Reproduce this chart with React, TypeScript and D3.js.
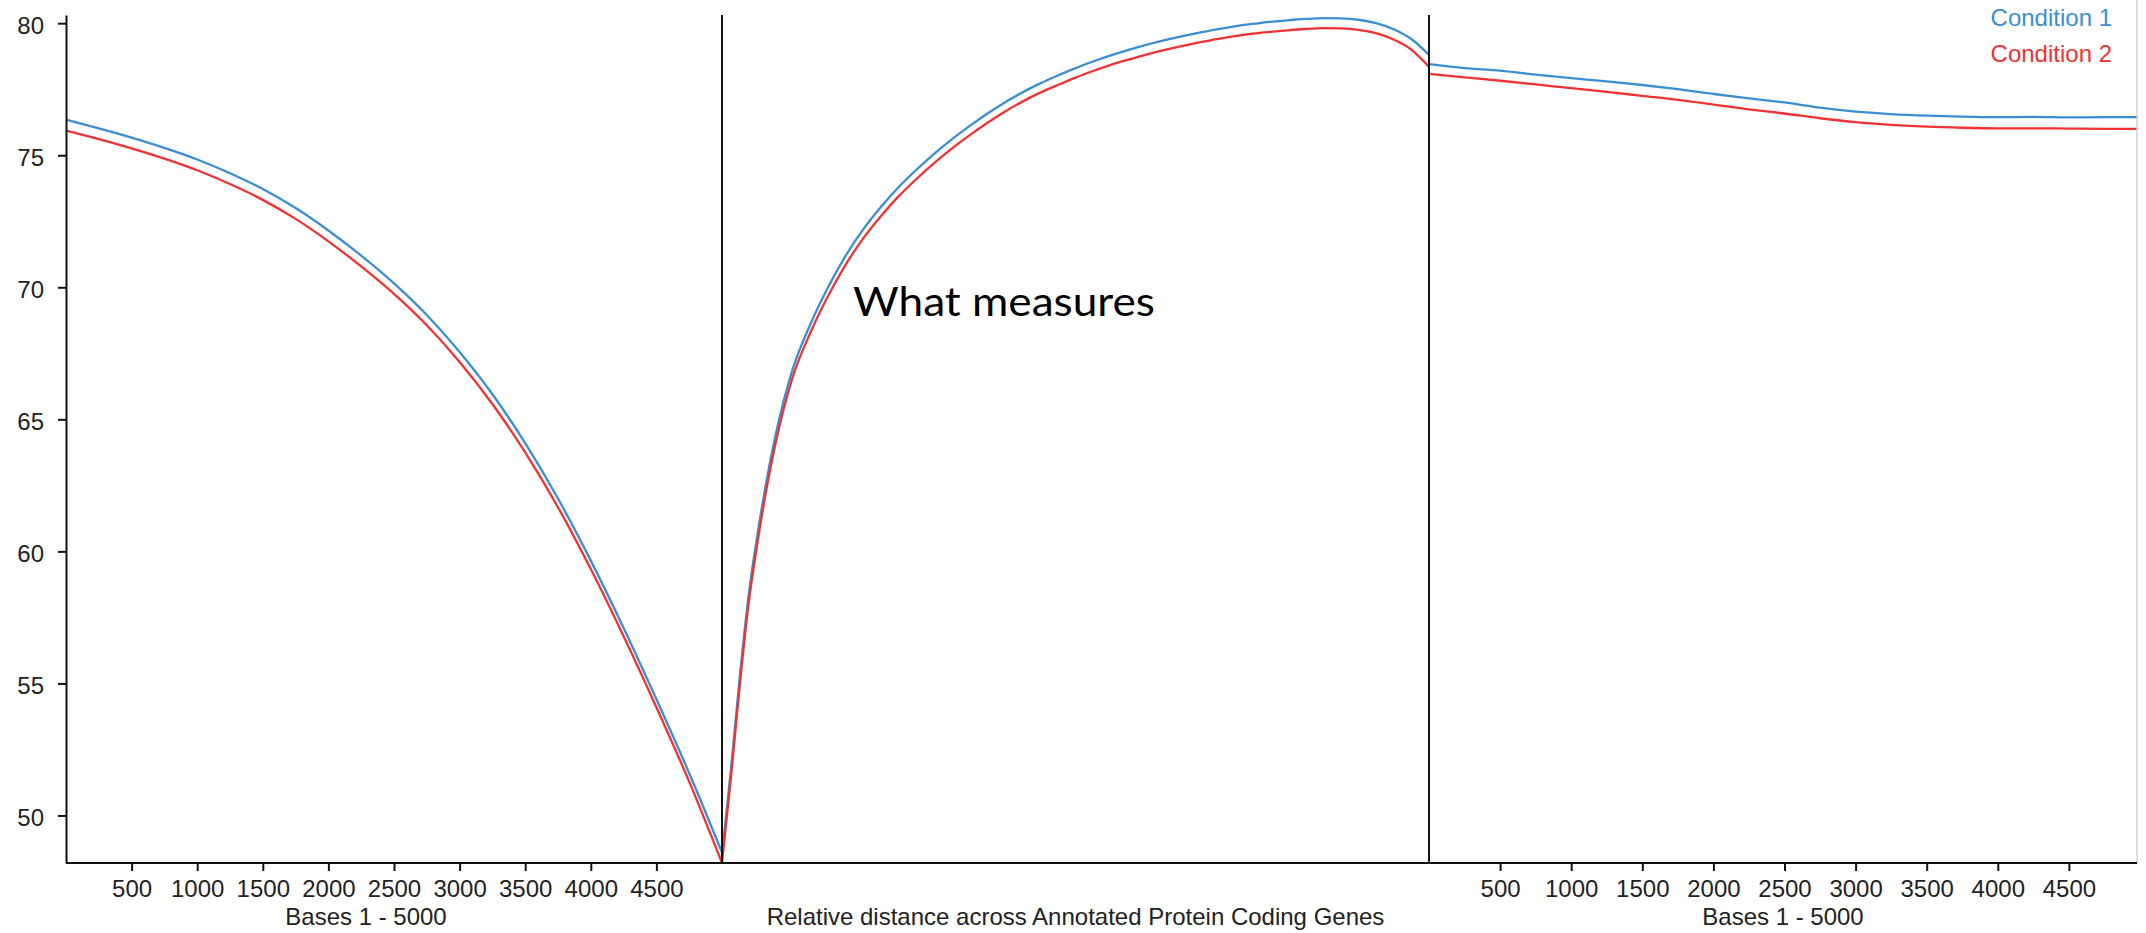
import React, { useEffect, useRef } from 'react';
import * as d3 from 'd3';

// upstream flank, bases 1 - 5000
const leftBases = [0, 250, 500, 750, 1000, 1250, 1500, 1750, 2000, 2250, 2500, 2750, 3000, 3250, 3500, 3750, 4000, 4250, 4500, 4750, 5000];
const leftCond1 = [76.35, 76.02, 75.67, 75.28, 74.84, 74.32, 73.72, 73.0, 72.15, 71.2, 70.15, 68.95, 67.55, 65.95, 64.1, 62.0, 59.65, 57.1, 54.4, 51.6, 48.6];
const leftCond2 = [75.93, 75.61, 75.26, 74.87, 74.43, 73.91, 73.31, 72.59, 71.74, 70.79, 69.75, 68.56, 67.17, 65.58, 63.75, 61.67, 59.33, 56.79, 54.1, 51.28, 48.2];

// gene body, relative distance (%)
const midPct = [0, 1.25, 2.5, 3.75, 5, 6.25, 7.5, 10, 12.5, 15, 17.5, 20, 22.5, 25, 27.5, 30, 32.5, 35, 37.5, 40, 42.5, 45, 47.5, 50, 52.5, 55, 57.5, 60, 62.5, 65, 67.5, 70, 72.5, 75, 77.5, 80, 82.5, 85, 87.5, 90, 92.5, 95, 97.5, 100];
const midCond1 = [48.5, 51.7, 55.2, 58.3, 60.6, 62.6, 64.3, 66.9, 68.6, 70.0, 71.2, 72.2, 73.05, 73.8, 74.45, 75.05, 75.6, 76.1, 76.57, 77.0, 77.38, 77.72, 78.02, 78.3, 78.55, 78.78, 78.99, 79.18, 79.35, 79.5, 79.64, 79.77, 79.88, 79.97, 80.05, 80.11, 80.16, 80.19, 80.18, 80.13, 80.0, 79.77, 79.4, 78.8];
const midCond2 = [48.2, 51.4, 54.9, 58.0, 60.3, 62.3, 64.0, 66.6, 68.28, 69.67, 70.86, 71.86, 72.7, 73.45, 74.1, 74.7, 75.25, 75.75, 76.22, 76.65, 77.03, 77.37, 77.66, 77.94, 78.19, 78.42, 78.62, 78.81, 78.98, 79.13, 79.27, 79.4, 79.51, 79.6, 79.67, 79.73, 79.78, 79.81, 79.8, 79.75, 79.62, 79.38, 79.0, 78.35];

// downstream flank, bases 1 - 5000
const rightBases = [0, 250, 500, 750, 1000, 1250, 1500, 1750, 2000, 2250, 2500, 2750, 3000, 3250, 3500, 3750, 4000, 4250, 4500, 4750, 4975];
const rightCond1 = [78.45, 78.3, 78.2, 78.05, 77.92, 77.8, 77.66, 77.5, 77.32, 77.15, 77.0, 76.8, 76.65, 76.56, 76.5, 76.46, 76.44, 76.45, 76.43, 76.44, 76.44];
const rightCond2 = [78.08, 77.95, 77.82, 77.68, 77.54, 77.4, 77.25, 77.1, 76.92, 76.74, 76.58, 76.4, 76.25, 76.15, 76.08, 76.04, 76.02, 76.02, 76.01, 76.0, 76.0];

const yTicks = [50, 55, 60, 65, 70, 75, 80];
const baseTicks = [500, 1000, 1500, 2000, 2500, 3000, 3500, 4000, 4500];
const seriesNames = ['Condition 1', 'Condition 2'];
const seriesColors = ['#3c8ed2', '#f03232'];

const width = 2146;
const height = 933;

export default function App() {
  const svgRef = useRef<SVGSVGElement>(null);

  useEffect(() => {
    const svg = d3.select(svgRef.current);
    svg.selectAll('*').remove();

    const font = '"Liberation Sans", Arial, sans-serif';
    const plotTop = 15;
    const plotBottom = 863;
    const plotRight = 2137;

    const y = d3.scaleLinear().domain([48.2, 80.31]).range([plotBottom, plotTop]);
    const xLeft = d3.scaleLinear().domain([0, 5000]).range([66, 722]);
    const xMid = d3.scaleLinear().domain([0, 100]).range([722, 1429]);
    const xRight = d3.scaleLinear().domain([0, 5000]).range([1429, 2140]);

    // light frame on the right edge
    svg.append('line')
      .attr('x1', plotRight).attr('x2', plotRight)
      .attr('y1', 0).attr('y2', plotBottom)
      .attr('stroke', '#dcdcdc').attr('stroke-width', 2);

    // curves
    const panels = [
      { x: xLeft, keys: leftBases, vals: [leftCond1, leftCond2] },
      { x: xMid, keys: midPct, vals: [midCond1, midCond2] },
      { x: xRight, keys: rightBases, vals: [rightCond1, rightCond2] },
    ];

    panels.forEach((p) => {
      p.vals.forEach((vals, si) => {
        const line = d3.line<number>()
          .x((_, i) => p.x(p.keys[i]))
          .y((d) => y(d))
          .curve(d3.curveMonotoneX);
        svg.append('path')
          .datum(vals)
          .attr('fill', 'none')
          .attr('stroke', seriesColors[si])
          .attr('stroke-width', 2.3)
          .attr('d', line);
      });
    });

    // dividers between flanks and gene body
    [xMid(0), xMid(100)].forEach((xv) => {
      svg.append('line')
        .attr('x1', xv).attr('x2', xv)
        .attr('y1', plotTop).attr('y2', plotBottom)
        .attr('stroke', '#111').attr('stroke-width', 2);
    });

    // y axis
    const yAxis = svg.append('g')
      .attr('transform', `translate(${xLeft(0)},0)`)
      .call(d3.axisLeft(y).tickValues(yTicks).tickSize(8).tickSizeOuter(0).tickPadding(14));

    // bottom axes
    const fmt = d3.format('d');
    const leftAxis = svg.append('g')
      .attr('transform', `translate(0,${plotBottom})`)
      .call(d3.axisBottom(xLeft).tickValues(baseTicks).tickFormat(fmt).tickSize(8).tickSizeOuter(0).tickPadding(9));
    const rightAxis = svg.append('g')
      .attr('transform', `translate(0,${plotBottom})`)
      .call(d3.axisBottom(xRight).tickValues(baseTicks).tickFormat(fmt).tickSize(8).tickSizeOuter(0).tickPadding(9));

    [leftAxis, rightAxis].forEach((g) => g.select('.domain').remove());

    svg.append('line')
      .attr('x1', xLeft(0)).attr('x2', plotRight)
      .attr('y1', plotBottom).attr('y2', plotBottom)
      .attr('stroke', '#111').attr('stroke-width', 2);

    [yAxis, leftAxis, rightAxis].forEach((g) => {
      g.selectAll('path, line').attr('stroke', '#111').attr('stroke-width', 2);
      g.selectAll('text')
        .attr('font-family', font)
        .attr('font-size', 24)
        .attr('fill', '#222');
    });
    yAxis.selectAll('text').attr('dy', '0.42em');

    // axis titles
    const titles = [
      { x: 366, text: 'Bases 1 - 5000' },
      { x: (xMid(0) + xMid(100)) / 2, text: 'Relative distance across Annotated Protein Coding Genes' },
      { x: (xRight(0) + plotRight) / 2, text: 'Bases 1 - 5000' },
    ];
    svg.selectAll('.x-title')
      .data(titles)
      .enter()
      .append('text')
      .attr('class', 'x-title')
      .attr('x', (d) => d.x)
      .attr('y', 925)
      .attr('text-anchor', 'middle')
      .attr('font-family', font)
      .attr('font-size', 24)
      .attr('fill', '#222')
      .text((d) => d.text);

    // legend, top right
    svg.selectAll('.legend')
      .data(seriesNames)
      .enter()
      .append('text')
      .attr('class', 'legend')
      .attr('x', 2112)
      .attr('y', (_, i) => 26 + i * 36)
      .attr('text-anchor', 'end')
      .attr('font-family', font)
      .attr('font-size', 24)
      .attr('fill', (_, i) => seriesColors[i])
      .text((d) => d);

    // annotation
    svg.append('text')
      .attr('x', 853)
      .attr('y', 316)
      .attr('font-family', 'Lato, "Open Sans", sans-serif')
      .attr('font-size', 40)
      .attr('textLength', 302)
      .attr('lengthAdjust', 'spacingAndGlyphs')
      .attr('fill', '#000')
      .text('What measures');
  }, []);

  return (
    <svg
      ref={svgRef}
      width={width}
      height={height}
      style={{ position: 'absolute', left: 0, top: 0, background: '#fff' }}
    />
  );
}
